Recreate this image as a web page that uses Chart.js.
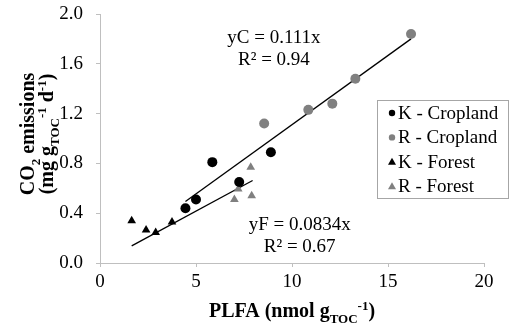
<!DOCTYPE html>
<html>
<head>
<meta charset="utf-8">
<script src="https://cdn.jsdelivr.net/npm/chart.js@4/dist/chart.umd.min.js"></script>
<style>
  html, body { margin: 0; padding: 0; background: #fff; }
  #wrap { width: 512px; height: 326px; }
</style>
</head>
<body>
<div id="wrap"><canvas id="co2-chart" width="512" height="326"></canvas></div>
<script>
// PLFA (x) vs CO2 emissions (y)
var kCroplandX = [4.45, 5.0, 5.85, 7.25, 8.9];
var kCroplandY = [0.44, 0.51, 0.81, 0.65, 0.89];
var rCroplandX = [8.55, 10.85, 12.1, 13.3, 16.2];
var rCroplandY = [1.12, 1.23, 1.28, 1.48, 1.84];
var kForestX = [1.65, 2.4, 2.9, 3.75];
var kForestY = [0.34, 0.265, 0.245, 0.33];
var rForestX = [7.0, 7.2, 7.85, 7.9];
var rForestY = [0.51, 0.595, 0.77, 0.54];

// trend line end points
var trendCX = [4.45, 16.2];
var trendCY = [0.494, 1.80];
var trendFX = [1.65, 7.95];
var trendFY = [0.138, 0.663];

var xTicks = [0, 5, 10, 15, 20];
var yTicks = [0.0, 0.4, 0.8, 1.2, 1.6, 2.0];

var SERIF = '"Liberation Serif", "Times New Roman", serif';
var GRAY = '#808080';
var AXIS = '#bfbfbf';

function pts(xs, ys) {
  return xs.map(function (x, i) { return { x: x, y: ys[i] }; });
}

// draws text made of normal / sub / sup pieces, centred on x
function drawRich(ctx, parts, x, y, size, weight) {
  var small = Math.round(size * 0.65);
  var total = 0;
  parts.forEach(function (p) {
    ctx.font = weight + ' ' + (p.s ? small : size) + 'px ' + SERIF;
    p.w = ctx.measureText(p.t).width;
    total += p.w;
  });
  var cx = x - total / 2;
  parts.forEach(function (p) {
    ctx.font = weight + ' ' + (p.s ? small : size) + 'px ' + SERIF;
    var dy = p.s === 'sub' ? size * 0.28 : (p.s === 'sup' ? -size * 0.33 : 0);
    ctx.fillText(p.t, cx, y + dy);
    cx += p.w;
  });
}

var axisTitles = {
  id: 'axisTitles',
  afterDraw: function (chart) {
    var ctx = chart.ctx;
    var area = chart.chartArea;
    ctx.save();
    ctx.fillStyle = '#000';
    ctx.textAlign = 'left';
    ctx.textBaseline = 'alphabetic';
    drawRich(ctx, [
      { t: 'PLFA (nmol g' }, { t: 'TOC', s: 'sub' }, { t: '-1', s: 'sup' }, { t: ')' }
    ], (area.left + area.right) / 2, 317, 20, 'bold');

    ctx.translate(0, 134);
    ctx.rotate(-Math.PI / 2);
    drawRich(ctx, [
      { t: 'CO' }, { t: '2', s: 'sub' }, { t: ' emissions' }
    ], 0, 34, 20, 'bold');
    drawRich(ctx, [
      { t: '(mg g' }, { t: 'TOC', s: 'sub' }, { t: '-1', s: 'sup' },
      { t: ' d' }, { t: '-1', s: 'sup' }, { t: ')' }
    ], 0, 53, 20, 'bold');
    ctx.restore();
  }
};

var notes = [
  { text: 'yC = 0.111x', x: 9.06, y: 1.807 },
  { text: 'R\u00b2 = 0.94', x: 9.06, y: 1.63 },
  { text: 'yF = 0.0834x', x: 10.4, y: 0.305 },
  { text: 'R\u00b2 = 0.67', x: 10.4, y: 0.129 }
];

var trendNotes = {
  id: 'trendNotes',
  afterDatasetsDraw: function (chart) {
    var ctx = chart.ctx;
    var sx = chart.scales.x, sy = chart.scales.y;
    ctx.save();
    ctx.fillStyle = '#000';
    ctx.font = '19px ' + SERIF;
    ctx.textAlign = 'center';
    ctx.textBaseline = 'middle';
    notes.forEach(function (n) {
      ctx.fillText(n.text, sx.getPixelForValue(n.x), sy.getPixelForValue(n.y));
    });
    ctx.restore();
  }
};

var boxLegend = {
  id: 'boxLegend',
  afterDraw: function (chart) {
    var ctx = chart.ctx;
    var items = chart.data.datasets.filter(function (d) { return !d.isTrend; });
    var left = 377, top = 100, w = 131, h = 98, row = 24.4;
    ctx.save();
    ctx.fillStyle = '#fff';
    ctx.fillRect(left, top, w, h);
    ctx.strokeStyle = '#a6a6a6';
    ctx.lineWidth = 1;
    ctx.strokeRect(left + 0.5, top + 0.5, w, h);
    ctx.font = '19px ' + SERIF;
    ctx.textBaseline = 'middle';
    ctx.textAlign = 'left';
    items.forEach(function (d, i) {
      var y = top + 13 + i * row;
      var mx = 392;
      ctx.fillStyle = d.backgroundColor;
      ctx.beginPath();
      if (d.pointStyle === 'triangle') {
        ctx.moveTo(mx, y - 4);
        ctx.lineTo(mx + 4, y + 3);
        ctx.lineTo(mx - 4, y + 3);
        ctx.closePath();
      } else {
        ctx.arc(mx, y, 3.2, 0, Math.PI * 2);
      }
      ctx.fill();
      ctx.fillStyle = '#000';
      ctx.fillText(d.label, 398, y + 1);
    });
    ctx.restore();
  }
};

function series(label, xs, ys, color, style) {
  return {
    label: label,
    data: pts(xs, ys),
    backgroundColor: color,
    borderColor: color,
    pointStyle: style,
    pointRadius: 5,
    pointBorderWidth: 0,
    showLine: false
  };
}

function trend(xs, ys) {
  return {
    label: 'trend',
    isTrend: true,
    data: pts(xs, ys),
    showLine: true,
    borderColor: '#000',
    borderWidth: 1.3,
    pointRadius: 0,
    fill: false
  };
}

var ctx = document.getElementById('co2-chart').getContext('2d');
var myChart = new Chart(ctx, {
  type: 'scatter',
  data: {
    datasets: [
      series('K - Cropland', kCroplandX, kCroplandY, '#000', 'circle'),
      series('R - Cropland', rCroplandX, rCroplandY, GRAY, 'circle'),
      series('K - Forest', kForestX, kForestY, '#000', 'triangle'),
      series('R - Forest', rForestX, rForestY, GRAY, 'triangle'),
      trend(trendCX, trendCY),
      trend(trendFX, trendFY)
    ]
  },
  options: {
    responsive: false,
    animation: false,
    layout: { padding: { left: 0, right: 28, top: 14, bottom: 0 } },
    plugins: {
      legend: { display: false },
      tooltip: { enabled: false },
      title: { display: false }
    },
    scales: {
      x: {
        type: 'linear',
        min: 0,
        max: 20,
        afterBuildTicks: function (scale) {
          scale.ticks = xTicks.map(function (v) { return { value: v }; });
        },
        afterFit: function (scale) {
          scale.height = 63;
          scale.paddingLeft = 0;
          scale.paddingRight = 0;
        },
        grid: { drawOnChartArea: false, drawTicks: true, tickLength: 4, color: AXIS },
        border: { color: AXIS },
        ticks: {
          padding: 4,
          color: '#000',
          font: { family: SERIF, size: 19 }
        }
      },
      y: {
        type: 'linear',
        min: 0,
        max: 2,
        afterBuildTicks: function (scale) {
          scale.ticks = yTicks.map(function (v) { return { value: v }; });
        },
        afterFit: function (scale) {
          scale.width = 100;
          scale.paddingTop = 0;
          scale.paddingBottom = 0;
        },
        grid: { drawOnChartArea: false, drawTicks: true, tickLength: 4, color: AXIS },
        border: { color: AXIS },
        ticks: {
          padding: 13,
          color: '#000',
          font: { family: SERIF, size: 19 },
          callback: function (v) { return Number(v).toFixed(1); }
        }
      }
    }
  },
  plugins: [trendNotes, axisTitles, boxLegend]
});
</script>
</body>
</html>
